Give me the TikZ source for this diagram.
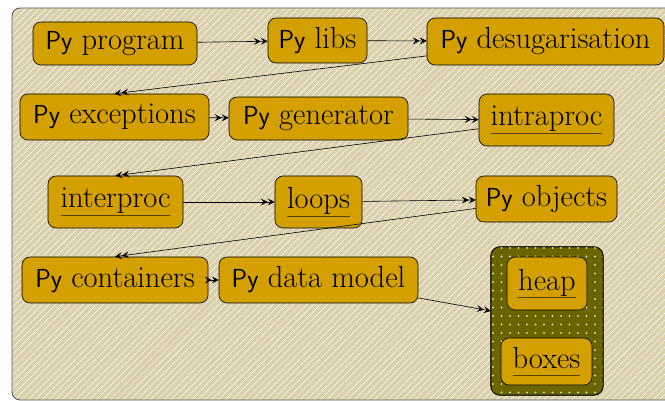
\documentclass[tikz,border=0pt]{standalone}
\usetikzlibrary{patterns.meta,arrows.meta}
\definecolor{bgtan}{HTML}{DBD0AC}
\definecolor{gold}{HTML}{D4A000}
\definecolor{olive}{HTML}{6B6500}
\definecolor{ulc}{HTML}{5A4500}
\newcommand{\Py}{{\fontsize{26}{30}\selectfont\sffamily Py}}
\newcommand{\ul}[1]{{\color{ulc}\underline{\color{black}\vphantom{p}#1}}}
\tikzset{
  box/.style={draw=black, fill=gold, rounded corners=8pt, line width=0.6pt,
    inner sep=0pt, font=\fontsize{30.5}{34}\selectfont, align=center},
  link/.style={-{Stealth[length=7pt,width=7pt,inset=3pt]Stealth[length=7pt,width=7pt,inset=3pt]}, line width=0.6pt, black},
}
\begin{document}
\begin{tikzpicture}[x=1pt,y=-1pt]
\useasboundingbox (0,0) rectangle (665,401);
\clip (0,0) rectangle (665,401);
\fill[bgtan, rounded corners=8pt] (12,8) rectangle (690,400);
\fill[pattern={Lines[angle=45,distance=4.8pt,line width=0.5pt]}, pattern color=white!90!bgtan, rounded corners=8pt] (12,8) rectangle (690,400);
\draw[black!65, line width=0.9pt, rounded corners=8pt] (12,8) rectangle (690,400);

\node[box, minimum width=164, minimum height=43] (prog) at (115,43.5) {\Py{} program};
\node[box, minimum width=99, minimum height=45] (libs) at (317.5,40.5) {\Py{} libs};
\node[box, minimum width=237, minimum height=47] (desug) at (545.5,41.5) {\Py{} desugarisation};
\node[box, minimum width=189, minimum height=46] (exc) at (114.5,117) {\Py{} exceptions};
\node[box, minimum width=179, minimum height=43] (gen) at (318.5,118.5) {\Py{} generator};
\node[box, minimum width=135, minimum height=52] (intra) at (546.5,120) {\ul{intraproc}};
\node[box, minimum width=135, minimum height=52] (inter) at (115.5,202) {\ul{interproc}};
\node[box, minimum width=87, minimum height=52] (loops) at (318.5,202) {\ul{loops}};
\node[box, minimum width=141, minimum height=46] (obj) at (546.5,199) {\Py{} objects};
\node[box, minimum width=186, minimum height=46] (cont) at (115,280) {\Py{} containers};
\node[box, minimum width=199, minimum height=46] (dm) at (318.5,280) {\Py{} data model};

\node[draw=black, fill=olive, rounded corners=9pt, line width=0.6pt, minimum width=112, minimum height=148, inner sep=0pt] (mem) at (547,321) {};
\fill[pattern={Dots[distance=8.5pt,radius=1.1pt]}, pattern color=white!70!olive, rounded corners=9pt] (mem.south west) rectangle (mem.north east);
\draw[black, rounded corners=9pt, line width=0.6pt] (mem.south west) rectangle (mem.north east);
\node[box, minimum width=80, minimum height=53] (heap) at (547,283.5) {\ul{heap}};
\node[box, minimum width=91, minimum height=47] (boxes) at (546.5,361.5) {\ul{boxes}};

\draw[link] (prog) -- (libs);
\draw[link] (libs) -- (desug);
\draw[link] (desug) -- (exc.north);
\draw[link] (exc) -- (gen);
\draw[link] (gen) -- (intra);
\draw[link] (intra) -- (inter.north);
\draw[link] (inter) -- (loops);
\draw[link] (loops) -- (obj);
\draw[link] (obj) -- (cont.north);
\draw[link] (cont) -- (dm);
\draw[link] (dm) -- (mem);
\end{tikzpicture}
\end{document}
